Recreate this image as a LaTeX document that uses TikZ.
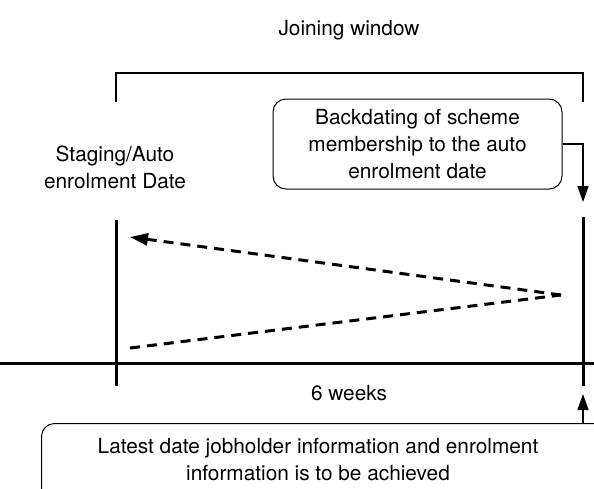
\documentclass[tikz,border=0pt]{standalone}
\usepackage{fontspec}
\setmainfont{TeX Gyre Heros}
\usepackage{tikz}
\usetikzlibrary{arrows.meta,positioning,calc}

\begin{document}
\begin{tikzpicture}[
    x=1pt, y=-1pt,
    label/.style={font=\fontsize{20.8}{27}\selectfont, align=center, inner sep=0pt},
    callout/.style={label, draw, line width=1pt, rounded corners=13pt},
    timeline/.style={line width=3pt},
    bracket/.style={line width=1.4pt},
    pointer/.style={line width=1.4pt, -{Triangle[width=11pt,length=16pt]}},
    period/.style={line width=3pt, dash pattern=on 10pt off 7pt}
]
    \useasboundingbox (0,0) rectangle (594,488);
    \clip (0,0) rectangle (594,488);

    % Joining window
    \node[label] (join) at (349,30) {Joining window};
    \coordinate (jl) at (116,102);
    \coordinate (jr) at (583,102);
    \draw[bracket] (jl) -- (116,73) -| (jr);

    % Dates
    \node[label] (staging) at (115,167) {Staging/Auto\\enrolment Date};
    \coordinate (sTop) at (116,220);
    \coordinate (sBot) at (116,386);
    \coordinate (eTop) at (583,217);
    \coordinate (eBot) at (583,386);
    \coordinate (axisL) at (0,363);
    \coordinate (axisR) at (594,363);
    \draw[timeline] (sTop) -- (sBot);
    \draw[timeline] (eTop) -- (eBot);
    \draw[timeline] (axisL) -- (axisR);
    \node[label] (weeks) at (349,393) {6 weeks};

    % Boxes
    \node[callout, minimum width=289pt, minimum height=90pt] (backdate) at (417.5,144)
        {Backdating of scheme\\membership to the auto\\enrolment date};
    \node[callout, minimum width=570pt, minimum height=80pt, anchor=north west] (latest) at (41,423) {};
    \node[label] (latestText) at (318,460)
        {Latest date jobholder information and enrolment\\information is to be achieved};

    % Arrows
    \coordinate (endIn) at (583,202);
    \coordinate (endOut) at (583,394);
    \draw[pointer] (backdate.east) -| (endIn);
    \draw[pointer] (latest.north west -| endOut) -- (endOut);
    \coordinate (apex) at (561,295);
    \coordinate (backTip) at (130,237);
    \coordinate (backStart) at (130,348);
    \draw[period] (backStart) -- (apex);
    \draw[period, -{Triangle[width=12pt,length=18pt]}] (apex) -- (backTip);
\end{tikzpicture}
\end{document}
